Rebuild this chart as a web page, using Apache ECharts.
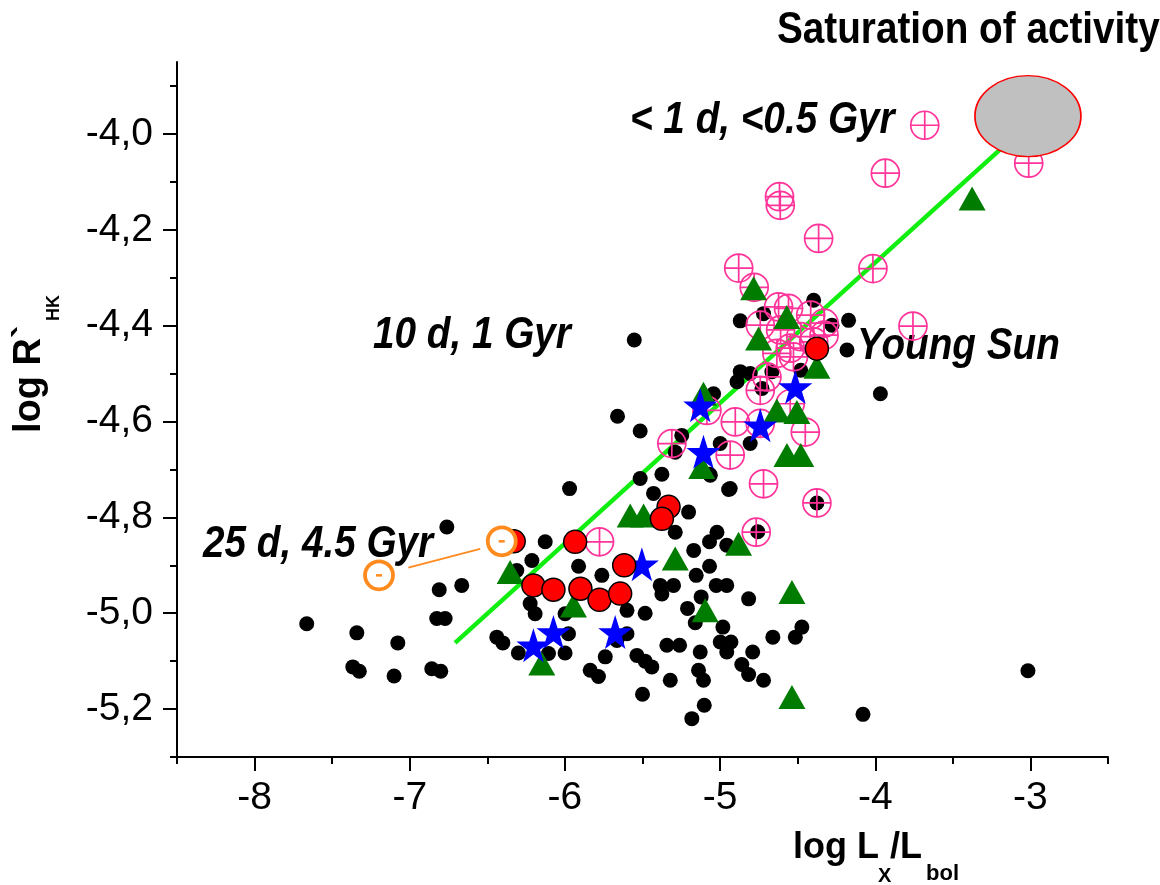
<!DOCTYPE html>
<html>
<head>
<meta charset="utf-8">
<title>log R'HK vs log Lx/Lbol</title>
<script src="https://cdn.jsdelivr.net/npm/echarts@6/dist/echarts.min.js"></script>
<style>
  html, body { margin: 0; padding: 0; background: #fff; }
  #chart { width: 1160px; height: 885px; }
</style>
</head>
<body>
<div id="chart"></div>
<script>
// Axis ticks
const xMajor = [-8, -7, -6, -5, -4, -3];
const xMinor = [-8.5, -7.5, -6.5, -5.5, -4.5, -3.5, -2.5];
const yMajor = [-5.2, -5.0, -4.8, -4.6, -4.4, -4.2, -4.0];
const yMinor = [-5.3, -5.1, -4.9, -4.7, -4.5, -4.3, -4.1, -3.9];

// Field stars (black dots): [log Lx/Lbol, log R'HK]
const fieldStars = [
  [-6.761, -4.820], [-6.665, -4.942], [-6.81, -4.951], [-6.826, -5.011], [-6.772, -5.011],
  [-7.664, -5.022], [-7.341, -5.041], [-7.077, -5.062], [-7.367, -5.112], [-7.325, -5.121],
  [-7.101, -5.131], [-6.858, -5.116], [-6.80, -5.121], [-6.439, -5.05], [-6.40, -5.062],
  [-5.970, -4.740], [-5.515, -4.719], [-5.375, -4.710], [-5.429, -4.750], [-4.945, -4.742],
  [-5.068, -4.710], [-5.203, -4.789], [-5.289, -4.831], [-5.020, -4.831], [-5.068, -4.851],
  [-4.957, -4.858], [-5.170, -4.869], [-5.068, -4.902], [-5.154, -4.921], [-5.025, -4.942],
  [-4.957, -4.942], [-4.816, -4.970], [-5.122, -4.966], [-5.21, -4.990], [-5.16, -5.020],
  [-4.982, -5.029], [-4.999, -5.06], [-4.93, -5.06], [-4.957, -5.081], [-4.66, -5.05],
  [-4.515, -5.05], [-4.473, -5.029], [-4.79, -5.081], [-4.86, -5.107], [-4.816, -5.128],
  [-4.72, -5.14], [-5.102, -5.192], [-5.182, -5.22], [-5.50, -5.169], [-5.321, -5.14],
  [-5.139, -5.119], [-5.107, -5.14], [-5.128, -5.081], [-5.343, -5.067], [-5.261, -5.067],
  [-5.536, -5.088], [-5.483, -5.10], [-5.44, -5.112], [-5.837, -5.119], [-5.784, -5.132],
  [-5.74, -5.091], [-5.483, -5.00], [-5.386, -4.942], [-5.30, -4.942], [-5.375, -4.96],
  [-5.60, -4.994], [-5.665, -5.057], [-5.6, -5.043], [-5.762, -4.921], [-5.912, -4.902],
  [-6.127, -4.851], [-6.213, -4.89], [-6.31, -4.911], [-6.224, -4.98], [-6.192, -5.001],
  [-5.999, -5.001], [-5.977, -5.043], [-5.999, -5.083], [-6.106, -5.084], [-6.30, -5.083],
  [-5.553, -4.43], [-5.661, -4.589], [-5.515, -4.62], [-4.87, -4.39], [-4.72, -4.375],
  [-4.397, -4.347], [-4.279, -4.399], [-4.172, -4.389], [-4.182, -4.451], [-3.967, -4.542],
  [-4.87, -4.496], [-4.806, -4.50], [-4.891, -4.517], [-4.666, -4.496], [-4.48, -4.493],
  [-4.73, -4.531], [-5.042, -4.542], [-5.247, -4.629], [-4.999, -4.646], [-4.806, -4.646],
  [-5.289, -4.664], [-5.063, -4.712], [-4.935, -4.74], [-4.376, -4.77], [-4.757, -4.83],
  [-3.016, -5.12], [-4.079, -5.211]
];

// Solar analogues (red circles)
const redStars = [
  [-5.332, -4.778], [-5.375, -4.803], [-5.934, -4.851], [-5.618, -4.90], [-6.203, -4.942],
  [-6.074, -4.951], [-5.90, -4.949], [-5.777, -4.972], [-5.644, -4.959], [-4.376, -4.448],
  [-6.33, -4.85]
];

// Blue stars
const blueStars = [
  [-5.504, -4.898], [-5.676, -5.039], [-6.074, -5.039], [-6.203, -5.067],
  [-5.128, -4.566], [-5.107, -4.663], [-4.741, -4.608], [-4.515, -4.528]
];

// Green triangles
const greenStars = [
  [-5.579, -4.796], [-5.493, -4.796], [-6.353, -4.914], [-5.289, -4.886], [-4.881, -4.855],
  [-4.537, -4.956], [-5.096, -4.994], [-5.945, -4.984], [-6.149, -5.105], [-4.537, -5.175],
  [-5.118, -4.695], [-4.569, -4.67], [-4.48, -4.67], [-4.784, -4.322], [-4.752, -4.427],
  [-5.107, -4.542], [-4.57, -4.382], [-4.376, -4.486], [-4.634, -4.577], [-4.505, -4.58],
  [-3.376, -4.135]
];

// Young active stars (pink crossed circles)
const pinkStars = [
  [-3.681, -3.982], [-3.011, -4.061], [-3.935, -4.082], [-4.617, -4.131], [-4.612, -4.149],
  [-4.365, -4.218], [-4.015, -4.281], [-3.757, -4.401], [-4.88, -4.28], [-4.78, -4.32],
  [-4.741, -4.399], [-4.559, -4.364], [-4.61, -4.409], [-4.416, -4.378], [-4.33, -4.395],
  [-4.48, -4.423], [-4.634, -4.458], [-4.527, -4.465], [-4.397, -4.434], [-4.698, -4.507],
  [-4.741, -4.535], [-4.548, -4.563], [-5.085, -4.577], [-4.902, -4.601], [-4.741, -4.604],
  [-4.451, -4.622], [-4.935, -4.67], [-5.311, -4.646], [-4.72, -4.73], [-4.376, -4.77],
  [-5.777, -4.851], [-4.767, -4.831], [-4.623, -4.361], [-4.548, -4.447], [-4.33, -4.42]
];

// The Sun at two epochs and the connector between them
const sunPoints = [[-7.198, -4.921], [-6.407, -4.85]];
const sunLink = [[-7.009, -4.905], [-6.546, -4.866]];

// Activity–X-ray trend line and the saturation region
const trendLine = [[-6.708, -5.062], [-3.05, -3.99]];
const saturation = [[-3.016, -3.963]];

const FONT = '"Liberation Sans", Arial, Helvetica, sans-serif';

const crossCircle = 'path://M0,14A14,14 0 1,1 28,14A14,14 0 1,1 0,14Z M14,0L14,28 M0,14L28,14';
const starPath = 'path://M50,0L61.8,35.3L98.5,35.3L68.8,57.1L79.4,90.5L50,70L20.6,90.5L31.2,57.1L1.5,35.3L38.2,35.3Z';

const chart = echarts.init(document.getElementById('chart'), null, { renderer: 'canvas' });

const tickLine = { color: '#000', width: 2 };

chart.setOption({
  animation: false,
  backgroundColor: '#fff',
  grid: { left: 177, right: 52, top: 62, bottom: 128, containLabel: false },
  xAxis: [
    {
      type: 'value', min: -8.5, max: -2.5, position: 'bottom',
      axisLine: { show: true, onZero: false, lineStyle: { color: '#000', width: 2 } },
      axisTick: { show: true, customValues: xMajor, length: 14, lineStyle: tickLine },
      axisLabel: {
        customValues: xMajor, margin: 22, color: '#000', fontSize: 39, fontFamily: FONT,
        formatter: v => String(v)
      },
      splitLine: { show: false }
    },
    {
      type: 'value', min: -8.5, max: -2.5, position: 'bottom',
      axisLine: { show: false, onZero: false },
      axisTick: { show: true, customValues: xMinor, length: 7, lineStyle: tickLine },
      axisLabel: { show: false },
      splitLine: { show: false }
    }
  ],
  yAxis: [
    {
      type: 'value', min: -5.3, max: -3.85, position: 'left',
      axisLine: { show: true, onZero: false, lineStyle: { color: '#000', width: 2 } },
      axisTick: { show: true, customValues: yMajor, length: 14, lineStyle: tickLine },
      axisLabel: {
        customValues: yMajor, margin: 24, color: '#000', fontSize: 39, fontFamily: FONT,
        formatter: v => v.toFixed(1).replace('.', ',')
      },
      splitLine: { show: false }
    },
    {
      type: 'value', min: -5.3, max: -3.85, position: 'left',
      axisLine: { show: false, onZero: false },
      axisTick: { show: true, customValues: yMinor, length: 7, lineStyle: tickLine },
      axisLabel: { show: false },
      splitLine: { show: false }
    }
  ],
  series: [
    {
      type: 'scatter', z: 2, data: fieldStars, symbol: 'circle', symbolSize: 15, silent: true,
      itemStyle: { color: '#000', opacity: 1 }
    },
    {
      type: 'line', z: 2, data: trendLine, symbol: 'none', silent: true,
      lineStyle: { color: '#10ee10', width: 4.5, opacity: 1 }
    },
    {
      type: 'scatter', z: 2, data: pinkStars, symbol: crossCircle, symbolSize: 28, silent: true,
      itemStyle: { color: 'rgba(0,0,0,0)', borderColor: '#ff3399', borderWidth: 1.7, opacity: 1 }
    },
    {
      type: 'scatter', z: 2, data: greenStars, symbol: 'triangle', symbolSize: [27, 24], silent: true,
      itemStyle: { color: '#007c00', opacity: 1 }
    },
    {
      type: 'scatter', z: 2, data: blueStars, symbol: starPath, symbolSize: 34, silent: true,
      itemStyle: { color: '#0000ff', opacity: 1 }
    },
    {
      type: 'scatter', z: 2, data: redStars, symbol: 'circle', symbolSize: 23, silent: true,
      itemStyle: { color: '#ff0000', borderColor: '#000', borderWidth: 1.5, opacity: 1 }
    },
    {
      type: 'line', z: 3, data: sunLink, symbol: 'none', silent: true,
      lineStyle: { color: '#ff8a1e', width: 1.8, opacity: 1 }
    },
    {
      type: 'scatter', z: 3, data: sunPoints, symbol: 'circle', symbolSize: 28, silent: true,
      itemStyle: { color: '#fff', borderColor: '#ff8a1e', borderWidth: 3.8, opacity: 1 }
    },
    {
      type: 'scatter', z: 3, data: sunPoints, symbol: 'rect', symbolSize: [6, 2.5], silent: true,
      itemStyle: { color: '#ff8a1e', opacity: 1 }
    },
    {
      type: 'scatter', z: 4, data: saturation, symbol: 'circle', symbolSize: [106, 81], silent: true,
      itemStyle: { color: '#c0c0c0', borderColor: '#ff0000', borderWidth: 1.5, opacity: 1 }
    }
  ],
  graphic: [
    { type: 'text', x: 777, y: 31, scaleX: 0.86, silent: true,
      style: { text: 'Saturation of activity', font: 'bold 45px ' + FONT, fill: '#000', align: 'left', verticalAlign: 'middle' } },
    { type: 'text', x: 630, y: 121, scaleX: 0.86, silent: true,
      style: { text: '< 1 d, <0.5 Gyr', font: 'italic bold 45px ' + FONT, fill: '#000', align: 'left', verticalAlign: 'middle' } },
    { type: 'text', x: 373, y: 336, scaleX: 0.86, silent: true,
      style: { text: '10 d, 1 Gyr', font: 'italic bold 45px ' + FONT, fill: '#000', align: 'left', verticalAlign: 'middle' } },
    { type: 'text', x: 857, y: 347, scaleX: 0.86, silent: true,
      style: { text: 'Young Sun', font: 'italic bold 45px ' + FONT, fill: '#000', align: 'left', verticalAlign: 'middle' } },
    { type: 'text', x: 203, y: 545, scaleX: 0.86, silent: true,
      style: { text: '25 d, 4.5 Gyr', font: 'italic bold 45px ' + FONT, fill: '#000', align: 'left', verticalAlign: 'middle' } },
    // y-axis title: log R'HK
    { type: 'text', x: 30, y: 433, rotation: Math.PI / 2, silent: true,
      style: { text: 'log R`', font: 'bold 38px ' + FONT, fill: '#000', align: 'left', verticalAlign: 'middle' } },
    { type: 'text', x: 54, y: 308, rotation: Math.PI / 2, silent: true,
      style: { text: 'HK', font: 'bold 18px ' + FONT, fill: '#000', align: 'center', verticalAlign: 'middle' } },
    // x-axis title: log Lx/Lbol
    { type: 'text', x: 879, y: 848, silent: true,
      style: { text: 'log L', font: 'bold 36px ' + FONT, fill: '#000', align: 'right', verticalAlign: 'middle' } },
    { type: 'text', x: 878, y: 876, silent: true,
      style: { text: 'X', font: 'bold 20px ' + FONT, fill: '#000', align: 'left', verticalAlign: 'middle' } },
    { type: 'text', x: 890, y: 848, silent: true,
      style: { text: '/L', font: 'bold 36px ' + FONT, fill: '#000', align: 'left', verticalAlign: 'middle' } },
    { type: 'text', x: 926, y: 874, silent: true,
      style: { text: 'bol', font: 'bold 22px ' + FONT, fill: '#000', align: 'left', verticalAlign: 'middle' } }
  ]
});
</script>
</body>
</html>
